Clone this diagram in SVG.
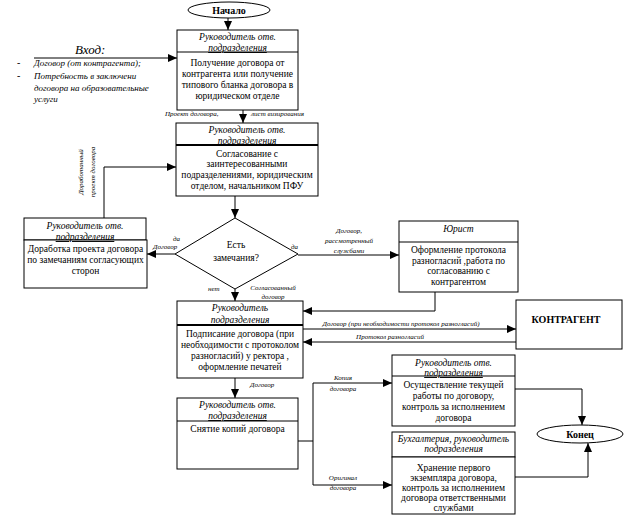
<svg xmlns="http://www.w3.org/2000/svg" width="624" height="516" viewBox="0 0 624 516">
<defs>
<marker id="ah" markerWidth="9" markerHeight="8" refX="9" refY="4" orient="auto" markerUnits="userSpaceOnUse">
<path d="M0,0 L9,4 L0,8 Z" fill="#000"/>
</marker>
<style>
.bx{fill:#fff;stroke:#000;stroke-width:1}
.hl{stroke:#000;stroke-width:1}
.thk{stroke:#000;stroke-width:2}
.ln{fill:none;stroke:#000;stroke-width:1}
.ar{fill:none;stroke:#000;stroke-width:1;marker-end:url(#ah)}
text{font-family:"Liberation Serif","Times New Roman","DejaVu Serif",serif;fill:#000}
.b{font-size:9.5px;text-anchor:middle}
.h{font-size:9.5px;font-style:italic;text-anchor:middle}
.u{text-decoration:underline}
.s{font-size:7px;font-style:italic}
.sm{font-size:7px;font-style:italic;text-anchor:middle}
.bold{font-size:10px;font-weight:bold;text-anchor:middle}
</style>
</defs>
<rect x="0" y="0" width="624" height="516" fill="#fff"/>

<g id="connectors">
<line class="ar" x1="228" y1="18" x2="228" y2="30"/>
<line class="ar" x1="34" y1="58" x2="177" y2="58"/>
<line class="ar" x1="243" y1="110" x2="243" y2="123"/>
<line class="ar" x1="235" y1="196" x2="235" y2="218"/>
<polyline class="ar" points="104,218 104,167 176,167"/>
<line class="ar" x1="175" y1="254" x2="147" y2="254"/>
<line class="ar" x1="298" y1="255" x2="399" y2="255"/>
<line class="ar" x1="235" y1="289" x2="235" y2="301"/>
<polyline class="ar" points="435,292 435,311 303,311"/>
<line class="ar" x1="303" y1="329" x2="516" y2="329"/>
<line class="ar" x1="516" y1="342" x2="303" y2="342"/>
<line class="ar" x1="235" y1="378" x2="235" y2="398"/>
<polyline class="ln" points="298,441 313,441"/>
<polyline class="ar" points="313,441 313,383 392,383"/>
<polyline class="ar" points="313,441 313,485 392,485"/>
<polyline class="ar" points="515,389 582,389 582,425"/>
<polyline class="ar" points="515,477 588,477 588,443"/>
<text class="s" x="165" y="116">Проект договора,</text>
<text class="s" x="251" y="116">лист визирования</text>
<text class="s" transform="translate(83,172) rotate(-90)" text-anchor="middle">Доработанный</text>
<text class="s" transform="translate(95,172) rotate(-90)" text-anchor="middle">проект договора</text>
<text class="s" x="173" y="241">да</text>
<text class="s" x="153" y="249">Договор</text>
<text class="s" x="291" y="249">да</text>
<text class="sm" x="349" y="233">Договор,</text>
<text class="sm" x="349" y="243">рассмотренный</text>
<text class="sm" x="349" y="253">службами</text>
<text class="s" x="208" y="291">нет</text>
<text class="sm" x="273" y="290">Согласованный</text>
<text class="sm" x="273" y="299">договор</text>
<text class="sm" x="401" y="326">Договор (при необходимости протокол разногласий)</text>
<text class="sm" x="390" y="339">Протокол разногласий</text>
<text class="s" x="250" y="387">Договор</text>
<text class="sm" x="343" y="380">Копия</text>
<text class="sm" x="343" y="391">договора</text>
<text class="sm" x="343" y="480">Оригинал</text>
<text class="sm" x="343" y="490">договора</text>
</g>

<g id="start">
<ellipse class="bx" cx="229" cy="10" rx="41" ry="8"/>
<text class="bold" x="229" y="14">Начало</text>
</g>

<g id="input">
<text x="75" y="54" font-size="13" font-style="italic">Вход:</text>
<text x="17" y="66" font-size="10">-</text>
<text x="34" y="66" font-size="9" font-style="italic">Договор (от контрагента);</text>
<text x="17" y="79" font-size="10">-</text>
<text x="34" y="79" font-size="9" font-style="italic">Потребность в заключени</text>
<text x="34" y="91" font-size="9" font-style="italic">договора на образовательные</text>
<text x="34" y="102" font-size="9" font-style="italic">услуги</text>
</g>

<g id="box1">
<rect class="bx" x="177" y="30" width="121" height="80"/>
<line class="hl" x1="177" y1="52" x2="298" y2="52"/>
<text class="h" x="237.5" y="40">Руководитель отв.</text>
<text class="h u" x="237.5" y="51">подразделения</text>
<text class="b" x="237.5" y="66">Получение договора от</text>
<text class="b" x="237.5" y="77">контрагента или получение</text>
<text class="b" x="237.5" y="88">типового бланка договора в</text>
<text class="b" x="237.5" y="99">юридическом отделе</text>
</g>

<g id="box2">
<rect class="bx" x="176" y="123" width="142" height="73"/>
<line class="thk" x1="176" y1="145" x2="318" y2="145"/>
<text class="h" x="247" y="133">Руководитель отв.</text>
<text class="h u" x="247" y="144">подразделения</text>
<text class="b" x="247" y="157">Согласование с</text>
<text class="b" x="247" y="167">заинтересованными</text>
<text class="b" x="247" y="178">подразделениями, юридическим</text>
<text class="b" x="247" y="189">отделом, начальником ПФУ</text>
</g>

<g id="decision">
<polygon class="bx" points="235,218 298,254 235,289 175,254"/>
<text class="b" x="236" y="248">Есть</text>
<text class="b" x="236" y="261">замечания?</text>
</g>

<g id="box3">
<rect class="bx" x="24" y="218" width="122" height="22"/>
<rect class="bx" x="24" y="240" width="123" height="48"/>
<text class="h" x="85" y="229">Руководитель отв.</text>
<text class="h u" x="85" y="240">подразделения</text>
<text class="b" x="85.5" y="252">Доработка проекта договора</text>
<text class="b" x="85.5" y="263">по замечаниям согласующих</text>
<text class="b" x="85.5" y="274">сторон</text>
</g>

<g id="lawyer">
<rect class="bx" x="399" y="221" width="119" height="71"/>
<line class="hl" x1="399" y1="242" x2="518" y2="242"/>
<text class="h" x="458.5" y="232">Юрист</text>
<text class="b" x="458.5" y="253">Оформление протокола</text>
<text class="b" x="458.5" y="264">разногласий ,работа по</text>
<text class="b" x="458.5" y="274">согласованию с</text>
<text class="b" x="458.5" y="285">контрагентом</text>
</g>

<g id="box4">
<rect class="bx" x="177" y="301" width="126" height="77"/>
<line class="thk" x1="177" y1="325" x2="303" y2="325"/>
<text class="h" x="240" y="311">Руководитель</text>
<text class="h u" x="240" y="323">подразделения</text>
<text class="b" x="240" y="337">Подписание договора (при</text>
<text class="b" x="240" y="348">необходимости с протоколом</text>
<text class="b" x="240" y="359">разногласий) у ректора ,</text>
<text class="b" x="240" y="370">оформление печатей</text>
</g>

<g id="counterparty">
<rect class="bx" x="516" y="300" width="106" height="49"/>
<text class="bold" x="566" y="323">КОНТРАГЕНТ</text>
</g>

<g id="box5">
<rect class="bx" x="177" y="398" width="121" height="71"/>
<line class="hl" x1="177" y1="421" x2="298" y2="421"/>
<text class="h" x="237.5" y="408">Руководитель отв.</text>
<text class="h u" x="237.5" y="419">подразделения</text>
<text class="b" x="237.5" y="432">Снятие копий договора</text>
</g>

<g id="box6">
<rect class="bx" x="392" y="355" width="123" height="71"/>
<line class="hl" x1="392" y1="376" x2="515" y2="376"/>
<text class="h" x="453.5" y="366">Руководитель отв.</text>
<text class="h u" x="453.5" y="376">подразделения</text>
<text class="b" x="453.5" y="388">Осуществление текущей</text>
<text class="b" x="453.5" y="399">работы по договору,</text>
<text class="b" x="453.5" y="410">контроль за исполнением</text>
<text class="b" x="453.5" y="421">договора</text>
</g>

<g id="box7">
<rect class="bx" x="392" y="432" width="123" height="25"/>
<rect class="bx" x="392" y="457" width="123" height="57"/>
<text class="h" x="453.5" y="442">Бухгалтерия, руководитель</text>
<text class="h" x="453.5" y="452">подразделения</text>
<text class="b" x="453.5" y="471">Хранение первого</text>
<text class="b" x="453.5" y="481">экземпляра договора,</text>
<text class="b" x="453.5" y="491">контроль за исполнением</text>
<text class="b" x="453.5" y="501">договора ответственными</text>
<text class="b" x="453.5" y="511">службами</text>
</g>

<g id="end">
<ellipse class="bx" cx="580" cy="434" rx="43" ry="9"/>
<text class="bold" x="580" y="438">Конец</text>
</g>
</svg>
